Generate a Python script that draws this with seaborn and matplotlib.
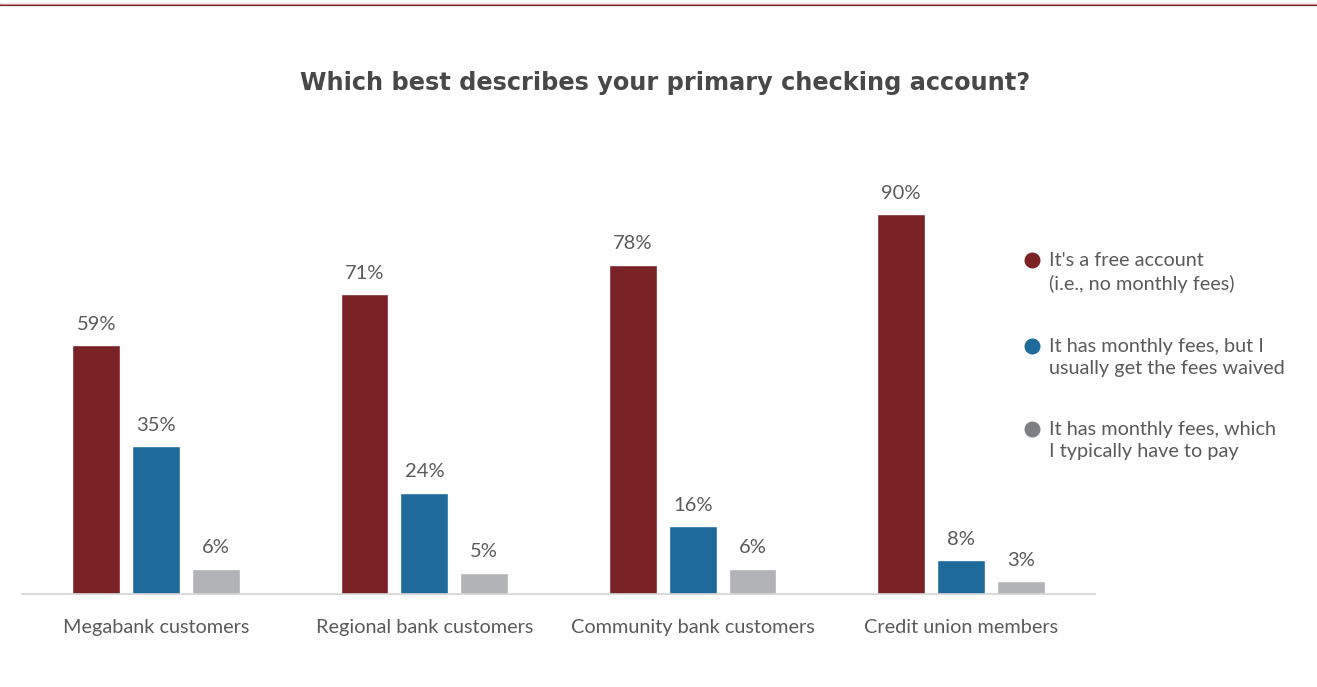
import matplotlib
matplotlib.use("Agg")
import matplotlib.pyplot as plt
from matplotlib.lines import Line2D
import pandas as pd
import seaborn as sns

groups = ["Megabank customers", "Regional bank customers",
          "Community bank customers", "Credit union members"]
series = ["It's a free account\n(i.e., no monthly fees)",
          "It has monthly fees, but I\nusually get the fees waived",
          "It has monthly fees, which\nI typically have to pay"]
free_account = [59, 71, 78, 90]
fees_waived = [35, 24, 16, 8]
fees_paid = [6, 5, 6, 3]

bar_colors = ["#7a2226", "#1e6a9b", "#b2b3b6"]
legend_colors = ["#7a2226", "#1e6a9b", "#7e7f82"]
text_color = "#5a5a5a"

rows = []
for name, vals in zip(series, [free_account, fees_waived, fees_paid]):
    for g, v in zip(groups, vals):
        rows.append({"group": g, "series": name, "value": v})
df = pd.DataFrame(rows)

sns.set_theme(style="white")
plt.rcParams["font.family"] = ["Lato", "DejaVu Sans"]

W, H = 1317, 687
fig = plt.figure(figsize=(W / 100, H / 100), dpi=100)
ax = fig.add_axes([22 / W, 93 / H, (1095 - 22) / W, 422 / H])

sns.barplot(data=df, x="group", y="value", hue="series", order=groups,
            hue_order=series, palette=bar_colors, width=0.67, gap=0.2,
            saturation=1, legend=False, ax=ax)

for container in ax.containers:
    ax.bar_label(container, labels=[f"{int(v)}%" for v in container.datavalues],
                 padding=9, fontsize=14.5, color=text_color)

ax.set_xlim(-0.5, 3.5)
ax.set_ylim(0, 100)
ax.set_xlabel("")
ax.set_ylabel("")
ax.set_yticks([])
for side in ["top", "right", "left"]:
    ax.spines[side].set_visible(False)
ax.spines["bottom"].set_color("#d4d4d4")
ax.spines["bottom"].set_linewidth(1.2)
ax.tick_params(axis="x", length=0, pad=18, labelsize=14.3, labelcolor=text_color)

# legend: colored dots with two-line captions
legend_y = [260, 346, 429]
for name, color, y in zip(series, legend_colors, legend_y):
    fig.add_artist(Line2D([1032 / W], [1 - y / H], transform=fig.transFigure,
                          marker="o", markersize=10.5, linestyle="",
                          markerfacecolor=color, markeredgecolor=color))
    fig.text(1049 / W, 1 - (y - 8) / H, name, ha="left", va="top",
             fontsize=14.3, color=text_color, linespacing=1.38)

fig.text(665 / W, 1 - 83 / H, "Which best describes your primary checking account?",
         ha="center", va="center", fontsize=17.3, fontweight="bold", color="#484848",
         family=["DejaVu Sans"])

# thin rule across the top of the page
fig.add_artist(Line2D([0, 1], [1 - 5 / H, 1 - 5 / H], transform=fig.transFigure,
                      color="#7a2226", linewidth=1.6))
fig.add_artist(Line2D([0, 1], [1 - 3.5 / H, 1 - 3.5 / H], transform=fig.transFigure,
                      color="#d9a9ab", linewidth=0.6))

fig.savefig("out.png", dpi=100)
